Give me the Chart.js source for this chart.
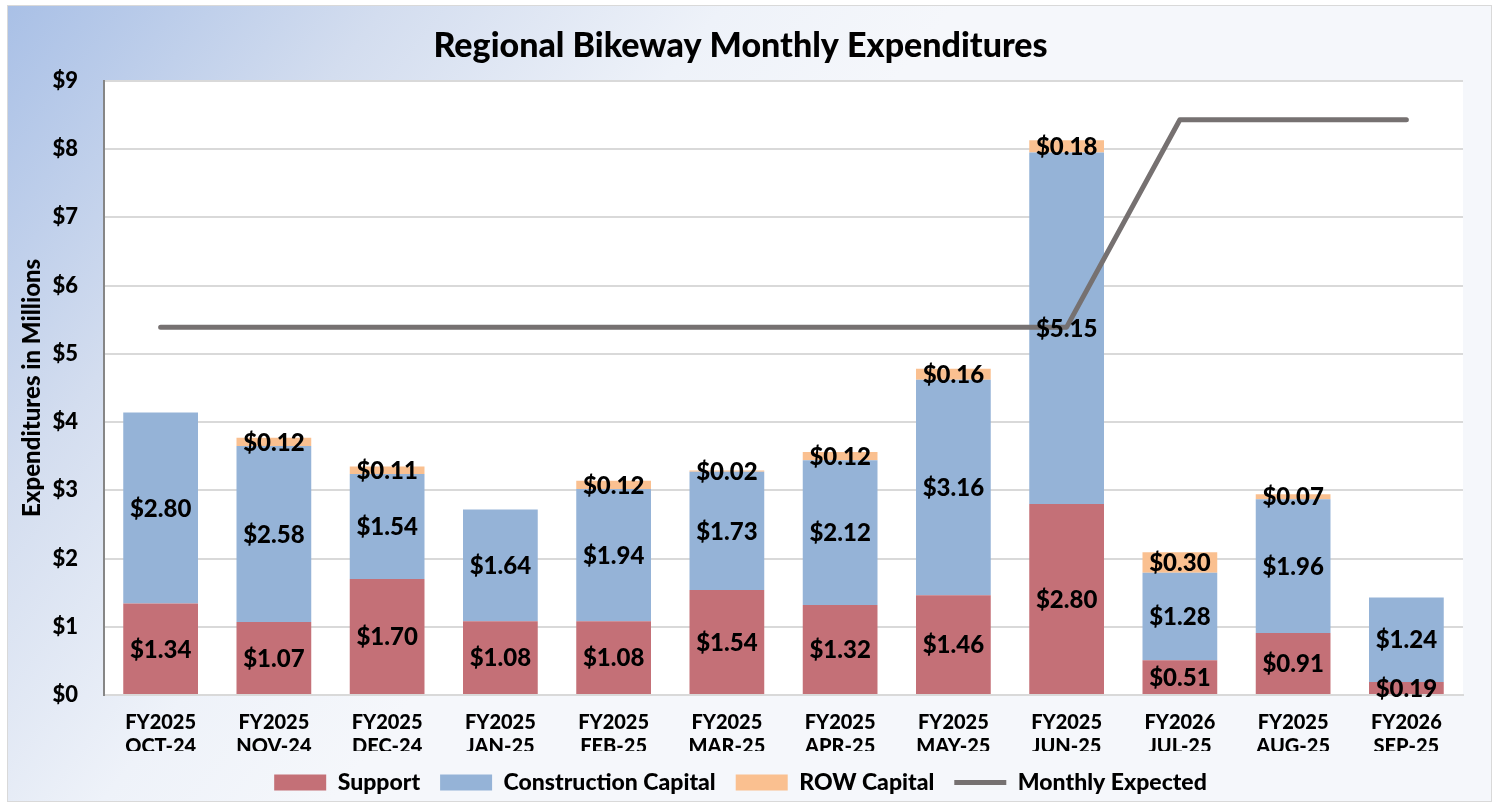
<!DOCTYPE html>
<html>
<head>
<meta charset="utf-8">
<script src="https://cdn.jsdelivr.net/npm/chart.js@4.4.1/dist/chart.umd.min.js"></script>
<style>
  html, body { margin: 0; padding: 0; background: #ffffff; }
  #box {
    position: absolute; left: 7px; top: 5px; width: 1483px; height: 795px;
    border: 1px solid #d9d9d9;
    background: linear-gradient(128deg, #a9c0e6 0%, #d3ddef 18%, #eef2f9 34%, #f5f7fb 45%, #f5f7fb 100%);
  }
</style>
</head>
<body>
<div id="box"><canvas id="expChart"></canvas></div>
<script>
// chart data
const months = [
    ['FY2025', 'OCT-24'], ['FY2025', 'NOV-24'], ['FY2025', 'DEC-24'], ['FY2025', 'JAN-25'],
    ['FY2025', 'FEB-25'], ['FY2025', 'MAR-25'], ['FY2025', 'APR-25'], ['FY2025', 'MAY-25'],
    ['FY2025', 'JUN-25'], ['FY2026', 'JUL-25'], ['FY2025', 'AUG-25'], ['FY2026', 'SEP-25']
];
const support = [1.34, 1.07, 1.70, 1.08, 1.08, 1.54, 1.32, 1.46, 2.80, 0.51, 0.91, 0.19];
const construction = [2.80, 2.58, 1.54, 1.64, 1.94, 1.73, 2.12, 3.16, 5.15, 1.28, 1.96, 1.24];
const rowCapital = [0, 0.12, 0.11, 0, 0.12, 0.02, 0.12, 0.16, 0.18, 0.30, 0.07, 0];
const monthlyExpected = [5.39, 5.39, 5.39, 5.39, 5.39, 5.39, 5.39, 5.39, 5.39, 8.43, 8.43, 8.43];
const yTicks = [0, 1, 2, 3, 4, 5, 6, 7, 8, 9];

const FONT = 'Lato, "Open Sans", sans-serif';
const W = 900;

// white plot area
const plotBg = {
    id: 'plotBg',
    beforeDraw(chart) {
        const a = chart.chartArea;
        chart.ctx.save();
        chart.ctx.fillStyle = '#ffffff';
        chart.ctx.fillRect(a.left, a.top, a.right - a.left, a.bottom - a.top);
        chart.ctx.restore();
    }
};

// value labels in the middle of each bar segment
const barLabels = {
    id: 'barLabels',
    afterDatasetsDraw(chart) {
        const ctx = chart.ctx;
        ctx.save();
        ctx.font = W + ' 24px ' + FONT;
        ctx.fillStyle = '#000000';
        ctx.textAlign = 'center';
        ctx.textBaseline = 'middle';
        chart.data.datasets.forEach((ds, i) => {
            if (ds.type === 'line') return;
            const meta = chart.getDatasetMeta(i);
            meta.data.forEach((bar, j) => {
                const v = ds.data[j];
                if (!v) return;
                ctx.fillText('$' + v.toFixed(2), bar.x, (bar.y + bar.base) / 2 + 1);
            });
        });
        ctx.restore();
    }
};

const ctx = document.getElementById('expChart').getContext('2d');
new Chart(ctx, {
    type: 'bar',
    data: {
        labels: months,
        datasets: [
            { label: 'Support', data: support, backgroundColor: '#c47077', stack: 'exp', order: 1 },
            { label: 'Construction Capital', data: construction, backgroundColor: '#95b3d7', stack: 'exp', order: 1 },
            { label: 'ROW Capital', data: rowCapital, backgroundColor: '#fac090', stack: 'exp', order: 1 },
            {
                type: 'line', label: 'Monthly Expected', data: monthlyExpected,
                borderColor: '#767171', backgroundColor: '#767171', borderWidth: 5,
                pointRadius: 0, borderCapStyle: 'round', borderJoinStyle: 'round',
                pointStyle: 'line', stack: 'line', order: 0
            }
        ]
    },
    options: {
        responsive: true,
        maintainAspectRatio: false,
        animation: false,
        layout: { padding: { top: 8, right: 28, left: 10, bottom: -3 } },
        datasets: { bar: { categoryPercentage: 1, barPercentage: 0.66 } },
        plugins: {
            title: {
                display: true,
                text: 'Regional Bikeway Monthly Expenditures',
                color: '#000000',
                font: { family: FONT, size: 34, weight: W },
                padding: { top: 12, bottom: 14 }
            },
            legend: {
                position: 'bottom',
                labels: {
                    color: '#000000',
                    font: { family: FONT, size: 23, weight: W },
                    usePointStyle: true,
                    pointStyleWidth: 52,
                    boxHeight: 16,
                    padding: 20,
                    sort: (a, b) => a.datasetIndex - b.datasetIndex,
                    generateLabels(chart) {
                        const items = Chart.defaults.plugins.legend.labels.generateLabels(chart);
                        items.forEach(it => {
                            if (it.datasetIndex < 3) { it.pointStyle = 'rect'; it.lineWidth = 0; }
                        });
                        return items;
                    }
                }
            },
            tooltip: { enabled: false }
        },
        scales: {
            x: {
                stacked: true,
                grid: { display: false },
                border: { color: '#d9d9d9', width: 2 },
                ticks: {
                    color: '#000000',
                    font: { family: FONT, size: 20, weight: W, lineHeight: 1.2 },
                    maxRotation: 0,
                    autoSkip: false,
                    padding: 8
                },
                afterFit(axis) { axis.height = 56; }
            },
            y: {
                stacked: true,
                min: 0,
                max: 9,
                afterBuildTicks(axis) { axis.ticks = yTicks.map(v => ({ value: v })); },
                afterFit(axis) { axis.width = 86; },
                grid: { color: '#d9d9d9', lineWidth: 2, drawTicks: false },
                border: { color: '#868686', width: 2 },
                ticks: {
                    color: '#000000',
                    font: { family: FONT, size: 22, weight: W },
                    padding: 26,
                    callback: v => '$' + v
                },
                title: {
                    display: true,
                    text: 'Expenditures in Millions',
                    color: '#000000',
                    font: { family: FONT, size: 24, weight: W },
                    padding: { top: 0, bottom: 2 }
                }
            }
        }
    },
    plugins: [plotBg, barLabels]
});
</script>
</body>
</html>
